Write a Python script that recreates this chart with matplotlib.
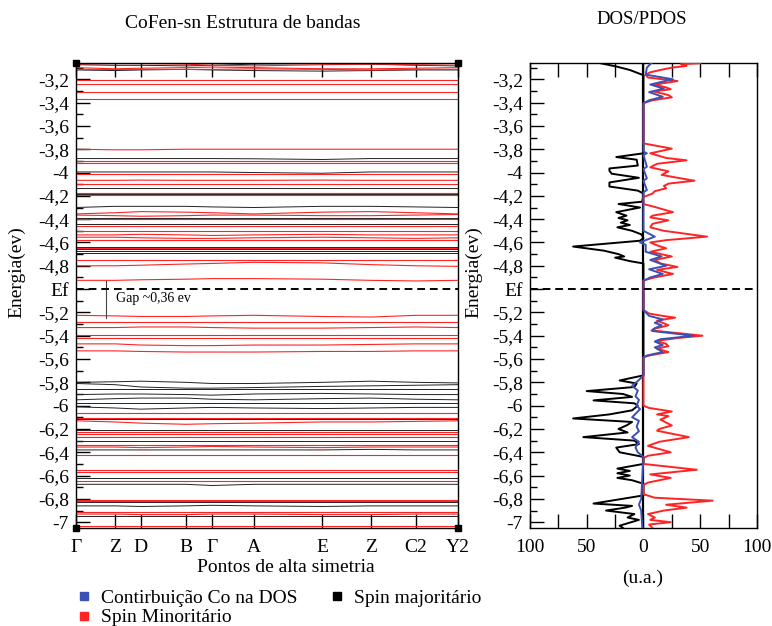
import matplotlib
matplotlib.use("Agg")
import matplotlib.pyplot as plt
from matplotlib.lines import Line2D
from matplotlib.ticker import MultipleLocator

plt.rcParams['font.family'] = ['Liberation Serif', 'DejaVu Serif']

# high-symmetry path
kpts = [0, 0.102, 0.170, 0.288, 0.356, 0.466, 0.644, 0.772, 0.890, 1.0]
klabels = ['Γ', 'Z', 'D', 'B', 'Γ', 'A', 'E', 'Z', 'C2', 'Y2']

# bands: energy at each high-symmetry point (eV)
bands_major = [
    [-3.075, -3.08, -3.08, -3.085, -3.08, -3.07, -3.065, -3.07, -3.08, -3.085],
    [-3.12, -3.125, -3.12, -3.115, -3.12, -3.125, -3.13, -3.125, -3.12, -3.12],
    [-3.88, -3.88, -3.88, -3.88, -3.88, -3.882, -3.888, -3.88, -3.88, -3.88],
    [-3.92, -3.92, -3.92, -3.92, -3.92, -3.92, -3.92, -3.92, -3.92, -3.92],
    [-3.995, -3.995, -3.995, -3.995, -3.995, -4.0, -4.006, -3.995, -3.995, -3.995],
    [-4.13, -4.13, -4.13, -4.13, -4.13, -4.13, -4.13, -4.13, -4.13, -4.13],
    [-4.18, -4.18, -4.18, -4.18, -4.18, -4.18, -4.18, -4.18, -4.18, -4.18],
    [-4.30, -4.29, -4.29, -4.29, -4.295, -4.30, -4.29, -4.29, -4.295, -4.30],
    [-4.39, -4.39, -4.39, -4.39, -4.39, -4.39, -4.39, -4.39, -4.39, -4.39],
    [-4.445, -4.445, -4.445, -4.445, -4.445, -4.445, -4.445, -4.445, -4.445, -4.445],
    [-4.64, -4.64, -4.64, -4.64, -4.64, -4.64, -4.64, -4.64, -4.64, -4.64],
    [-4.66, -4.66, -4.66, -4.66, -4.66, -4.66, -4.66, -4.66, -4.66, -4.66],
    [-4.675, -4.675, -4.675, -4.675, -4.675, -4.675, -4.675, -4.675, -4.675, -4.675],
    [-4.69, -4.69, -4.69, -4.69, -4.69, -4.69, -4.69, -4.69, -4.69, -4.69],
    [-5.80, -5.795, -5.79, -5.80, -5.81, -5.81, -5.80, -5.79, -5.80, -5.805],
    [-5.81, -5.82, -5.84, -5.85, -5.85, -5.845, -5.835, -5.83, -5.825, -5.82],
    [-5.86, -5.86, -5.86, -5.86, -5.86, -5.86, -5.86, -5.86, -5.86, -5.86],
    [-5.905, -5.90, -5.90, -5.905, -5.91, -5.90, -5.895, -5.90, -5.905, -5.905],
    [-5.95, -5.94, -5.935, -5.935, -5.945, -5.95, -5.94, -5.935, -5.945, -5.95],
    [-5.98, -5.98, -5.98, -5.98, -5.98, -5.98, -5.98, -5.98, -5.98, -5.98],
    [-6.01, -6.02, -6.03, -6.02, -6.015, -6.02, -6.025, -6.02, -6.015, -6.015],
    [-6.115, -6.115, -6.115, -6.115, -6.115, -6.115, -6.115, -6.115, -6.115, -6.115],
    [-6.205, -6.205, -6.205, -6.205, -6.205, -6.205, -6.205, -6.205, -6.205, -6.205],
    [-6.272, -6.272, -6.272, -6.272, -6.272, -6.272, -6.272, -6.272, -6.272, -6.272],
    [-6.30, -6.30, -6.30, -6.30, -6.30, -6.30, -6.30, -6.30, -6.30, -6.30],
    [-6.38, -6.38, -6.38, -6.38, -6.38, -6.38, -6.38, -6.375, -6.38, -6.38],
    [-6.62, -6.62, -6.62, -6.62, -6.62, -6.62, -6.62, -6.62, -6.62, -6.62],
    [-6.675, -6.675, -6.675, -6.675, -6.685, -6.675, -6.675, -6.675, -6.675, -6.675],
    [-6.825, -6.825, -6.825, -6.825, -6.825, -6.825, -6.825, -6.825, -6.825, -6.825],
    [-6.86, -6.86, -6.865, -6.86, -6.855, -6.86, -6.865, -6.86, -6.86, -6.86],
    [-6.945, -6.945, -6.945, -6.945, -6.945, -6.945, -6.945, -6.945, -6.945, -6.945],
]

bands_minor = [
    [-3.07, -3.065, -3.065, -3.07, -3.08, -3.085, -3.075, -3.07, -3.075, -3.08],
    [-3.10, -3.11, -3.105, -3.10, -3.095, -3.10, -3.11, -3.11, -3.105, -3.10],
    [-3.115, -3.115, -3.115, -3.115, -3.115, -3.11, -3.115, -3.12, -3.115, -3.115],
    [-3.21, -3.21, -3.21, -3.21, -3.21, -3.21, -3.21, -3.21, -3.21, -3.21],
    [-3.24, -3.24, -3.24, -3.24, -3.24, -3.24, -3.24, -3.24, -3.24, -3.24],
    [-3.305, -3.305, -3.305, -3.305, -3.305, -3.305, -3.305, -3.305, -3.305, -3.305],
    [-3.37, -3.37, -3.37, -3.37, -3.37, -3.37, -3.37, -3.37, -3.37, -3.37],
    [-3.80, -3.805, -3.805, -3.80, -3.80, -3.80, -3.80, -3.80, -3.80, -3.80],
    [-3.905, -3.905, -3.905, -3.905, -3.905, -3.905, -3.905, -3.905, -3.905, -3.905],
    [-3.915, -3.915, -3.915, -3.915, -3.915, -3.915, -3.915, -3.915, -3.915, -3.915],
    [-4.015, -4.015, -4.015, -4.015, -4.015, -4.015, -4.015, -4.015, -4.015, -4.015],
    [-4.067, -4.067, -4.065, -4.067, -4.067, -4.067, -4.065, -4.067, -4.067, -4.067],
    [-4.10, -4.10, -4.10, -4.10, -4.10, -4.10, -4.10, -4.10, -4.10, -4.10],
    [-4.175, -4.175, -4.175, -4.175, -4.175, -4.175, -4.175, -4.175, -4.175, -4.175],
    [-4.195, -4.195, -4.195, -4.195, -4.195, -4.195, -4.195, -4.195, -4.195, -4.195],
    [-4.355, -4.345, -4.335, -4.34, -4.345, -4.355, -4.34, -4.335, -4.345, -4.355],
    [-4.365, -4.37, -4.375, -4.37, -4.365, -4.365, -4.37, -4.37, -4.365, -4.36],
    [-4.395, -4.395, -4.395, -4.395, -4.395, -4.395, -4.395, -4.395, -4.395, -4.395],
    [-4.455, -4.455, -4.455, -4.455, -4.455, -4.455, -4.455, -4.455, -4.455, -4.455],
    [-4.505, -4.505, -4.505, -4.505, -4.505, -4.505, -4.505, -4.505, -4.505, -4.505],
    [-4.535, -4.535, -4.53, -4.535, -4.54, -4.535, -4.53, -4.535, -4.535, -4.535],
    [-4.555, -4.555, -4.56, -4.565, -4.565, -4.56, -4.555, -4.56, -4.565, -4.56],
    [-4.575, -4.575, -4.575, -4.575, -4.575, -4.575, -4.575, -4.575, -4.575, -4.575],
    [-4.645, -4.645, -4.645, -4.645, -4.645, -4.645, -4.645, -4.645, -4.645, -4.645],
    [-4.75, -4.75, -4.75, -4.75, -4.75, -4.75, -4.75, -4.75, -4.75, -4.75],
    [-4.80, -4.80, -4.795, -4.785, -4.78, -4.77, -4.775, -4.79, -4.80, -4.805],
    [-4.925, -4.925, -4.92, -4.915, -4.91, -4.91, -4.915, -4.925, -4.93, -4.925],
    [-5.225, -5.23, -5.235, -5.235, -5.23, -5.225, -5.235, -5.24, -5.225, -5.225],
    [-5.28, -5.28, -5.28, -5.28, -5.28, -5.28, -5.28, -5.28, -5.28, -5.28],
    [-5.33, -5.33, -5.325, -5.325, -5.33, -5.335, -5.335, -5.33, -5.325, -5.33],
    [-5.39, -5.39, -5.39, -5.39, -5.39, -5.39, -5.39, -5.39, -5.39, -5.39],
    [-5.42, -5.42, -5.42, -5.42, -5.42, -5.42, -5.42, -5.42, -5.42, -5.42],
    [-5.47, -5.47, -5.48, -5.485, -5.485, -5.48, -5.48, -5.475, -5.47, -5.47],
    [-5.53, -5.53, -5.535, -5.54, -5.54, -5.54, -5.535, -5.535, -5.53, -5.53],
    [-6.06, -6.06, -6.06, -6.06, -6.06, -6.06, -6.06, -6.06, -6.06, -6.06],
    [-6.11, -6.11, -6.11, -6.11, -6.11, -6.11, -6.11, -6.11, -6.11, -6.11],
    [-6.13, -6.14, -6.15, -6.16, -6.155, -6.15, -6.14, -6.14, -6.135, -6.13],
    [-6.225, -6.225, -6.225, -6.225, -6.225, -6.225, -6.225, -6.225, -6.225, -6.225],
    [-6.245, -6.245, -6.245, -6.245, -6.245, -6.245, -6.245, -6.245, -6.245, -6.245],
    [-6.268, -6.268, -6.268, -6.268, -6.268, -6.268, -6.268, -6.268, -6.268, -6.268],
    [-6.335, -6.335, -6.335, -6.335, -6.335, -6.335, -6.335, -6.335, -6.335, -6.335],
    [-6.355, -6.355, -6.36, -6.355, -6.35, -6.355, -6.36, -6.355, -6.355, -6.355],
    [-6.42, -6.42, -6.42, -6.42, -6.42, -6.42, -6.42, -6.42, -6.42, -6.42],
    [-6.555, -6.555, -6.555, -6.555, -6.555, -6.555, -6.555, -6.555, -6.555, -6.555],
    [-6.565, -6.565, -6.565, -6.565, -6.565, -6.565, -6.565, -6.565, -6.565, -6.565],
    [-6.65, -6.65, -6.65, -6.65, -6.65, -6.65, -6.65, -6.65, -6.65, -6.65],
    [-6.81, -6.81, -6.81, -6.81, -6.81, -6.81, -6.81, -6.81, -6.81, -6.81],
    [-6.818, -6.818, -6.818, -6.818, -6.818, -6.818, -6.818, -6.818, -6.818, -6.818],
    [-6.915, -6.915, -6.915, -6.915, -6.915, -6.915, -6.915, -6.915, -6.915, -6.915],
    [-6.93, -6.93, -6.935, -6.935, -6.93, -6.93, -6.935, -6.935, -6.93, -6.93],
    [-7.03, -7.03, -7.03, -7.03, -7.03, -7.03, -7.03, -7.03, -7.03, -7.03],
]

# DOS (u.a.), spin majoritário drawn to the left
dos_major_E = [-3.06, -3.09, -3.12, -3.165, -3.835, -3.867, -3.89, -3.94, -3.965, -3.985,
               -4.01, -4.045, -4.085, -4.12, -4.155, -4.18, -4.25, -4.27, -4.30, -4.34,
               -4.37, -4.39, -4.41, -4.43, -4.45, -4.47, -4.50, -4.53, -4.56, -4.585,
               -4.635, -4.67, -4.70, -4.72, -4.73, -4.76, -4.78, -5.74, -5.784, -5.81,
               -5.84, -5.875, -5.90, -5.925, -5.955, -5.98, -6.0, -6.04, -6.075, -6.11,
               -6.14, -6.17, -6.20, -6.23, -6.27, -6.30, -6.33, -6.36, -6.40, -6.44,
               -6.50, -6.54, -6.56, -6.58, -6.60, -6.62, -6.64, -6.67, -6.77, -6.84,
               -6.86, -6.875, -6.90, -6.93, -6.96, -6.98, -7.03, -7.05]
dos_major = [39, 24, 12, 0, 0, 24, 6, 5, 30, 30,
             28, 4, 30, 30, 5, 0, 1, 22, 3, 24,
             15, 22, 14, 20, 12, 23, 10, 2, 0, 3,
             62, 35, 22, 17, 25, 12, 0, 0, 21, 6,
             8, 50, 18, 10, 44, 8, 5, 10, 30, 62,
             10, 15, 22, 14, 53, 8, 4, 24, 21, 0,
             0, 23, 12, 23, 12, 23, 10, 0, 0, 44,
             10, 16, 33, 8, 14, 4, 21, 18]

dos_minor_E = [-3.062, -3.07, -3.085, -3.10, -3.12, -3.14, -3.16, -3.185, -3.215, -3.245,
               -3.27, -3.285, -3.305, -3.335, -3.355, -3.38, -3.405, -3.75, -3.795, -3.835,
               -3.875, -3.895, -3.925, -3.955, -3.99, -4.02, -4.045, -4.07, -4.095, -4.115,
               -4.135, -4.16, -4.18, -4.21, -4.27, -4.29, -4.34, -4.37, -4.385, -4.41,
               -4.44, -4.47, -4.50, -4.55, -4.58, -4.60, -4.625, -4.65, -4.68, -4.72,
               -4.75, -4.78, -4.81, -4.835, -4.87, -4.90, -4.925, -5.18, -5.21, -5.23,
               -5.245, -5.27, -5.31, -5.34, -5.355, -5.38, -5.40, -5.42, -5.445, -5.47,
               -5.49, -5.51, -5.54, -5.57, -5.585, -6.0, -6.02, -6.05, -6.075, -6.09,
               -6.12, -6.17, -6.20, -6.215, -6.27, -6.31, -6.345, -6.40, -6.43, -6.45,
               -6.50, -6.55, -6.59, -6.62, -6.66, -6.68, -6.76, -6.79, -6.815, -6.85,
               -6.875, -6.90, -6.93, -6.96, -6.98, -7.0, -7.02, -7.05]
dos_minor = [50, 33, 38, 25, 15, 6, 2, 4, 30, 10,
             20, 24, 9, 22, 25, 8, 0, 0, 25, 6,
             20, 38, 12, 6, 22, 16, 30, 45, 22, 18,
             20, 10, 8, 0, 0, 8, 26, 8, 6, 22,
             8, 6, 18, 56, 20, 6, 12, 20, 6, 25,
             10, 15, 30, 12, 26, 10, 0, 0, 5, 17,
             28, 12, 22, 10, 7, 33, 52, 30, 11, 20,
             22, 12, 22, 5, 0, 0, 5, 25, 12, 22,
             15, 25, 14, 12, 40, 14, 4, 24, 4, 0,
             0, 47, 6, 24, 4, 0, 0, 10, 61, 20,
             38, 18, 4, 10, 6, 24, 5, 8]

dos_co_E = [-3.06, -3.10, -3.16, -3.20, -3.245, -3.28, -3.31, -3.35, -3.38, -3.405,
            -3.82, -3.835, -3.85, -3.95, -3.97, -4.05, -4.07, -4.15, -4.17, -4.20,
            -4.50, -4.55, -4.58, -4.60, -4.62, -4.68, -4.72, -4.75, -4.80, -4.83,
            -4.87, -4.90, -4.93, -5.18, -5.23, -5.26, -5.29, -5.31, -5.34, -5.36,
            -5.40, -5.43, -5.45, -5.48, -5.50, -5.54, -5.57, -5.585, -5.74, -5.78,
            -5.83, -5.87, -5.92, -5.95, -6.0, -6.03, -6.10, -6.13, -6.18, -6.22,
            -6.27, -6.31, -6.36, -6.40, -6.44, -6.80, -6.85, -6.90, -7.05]
dos_co = [7, 3, 2, 26, 6, 18, 5, 17, 5, 0,
          0, 3, 0, 3, 0, 3, 0, 3, 0, 0,
          0, 10, 2, -3, 2, 2, 16, 6, 20, 5,
          17, 6, 0, 0, 5, 17, 10, 16, 9, 8,
          44, 15, 10, 17, 10, 17, 3, 0, 0, -4,
          -10, -5, -7, -4, -6, -3, -10, -4, -6, -4,
          -10, -4, -7, -5, 0, -2, -4, -2, -1]

yticks = [-3.2, -3.4, -3.6, -3.8, -4.0, -4.2, -4.4, -4.6, -4.8, -5.0,
          -5.2, -5.4, -5.6, -5.8, -6.0, -6.2, -6.4, -6.6, -6.8, -7.0]
ytick_labels = ['-3,2', '-3,4', '-3,6', '-3,8', '-4', '-4,2', '-4,4', '-4,6', '-4,8', 'Ef',
                '-5,2', '-5,4', '-5,6', '-5,8', '-6', '-6,2', '-6,4', '-6,6', '-6,8', '-7']
e_fermi = -5.0
ylim = (-7.05, -3.06)

RED = '#ff2424'
BLUE = '#3a50b4'

fig = plt.figure(figsize=(7.72, 6.26), dpi=100)
ax1 = fig.add_axes([0.0984, 0.1565, 0.4948, 0.7429])
ax2 = fig.add_axes([0.6865, 0.1565, 0.2940, 0.7429])


def style_y(ax):
    ax.set_ylim(*ylim)
    ax.set_yticks(yticks)
    ax.set_yticklabels(ytick_labels)
    ax.yaxis.set_minor_locator(MultipleLocator(0.1))
    ax.tick_params(axis='y', which='both', direction='in', left=True, right=False,
                   labelsize=14, pad=5)
    ax.tick_params(axis='y', which='major', length=10, width=1)
    ax.tick_params(axis='y', which='minor', length=5, width=1)
    ax.tick_params(axis='x', which='both', direction='in', top=True, bottom=True,
                   length=10, width=1, labelsize=14, pad=8)
    for s in ax.spines.values():
        s.set_linewidth(1.0)


# band structure
for b in bands_major:
    ax1.plot(kpts, b, color='#222222', lw=0.7)
for b in bands_minor:
    ax1.plot(kpts, b, color=RED, lw=0.8)
ax1.axhline(e_fermi, color='black', lw=1.4, dashes=(4, 2.5), zorder=5)
ax1.set_xlim(0, 1)
ax1.set_xticks(kpts)
ax1.set_xticklabels(klabels)
style_y(ax1)
ax1.plot([0, 1, 0, 1], [1, 1, 0, 0], 's', color='black', ms=5,
         transform=ax1.transAxes, clip_on=False, zorder=6)
# gap marker
ax1.plot([0.079, 0.079], [-4.93, -5.245], color='#444444', lw=0.8)
ax1.text(0.105, -5.077, 'Gap ~0,36 ev', fontsize=10, va='center', ha='left')

# DOS / PDOS
ax2.plot([-v for v in dos_major], dos_major_E, color='black', lw=1.4, zorder=3)
ax2.plot(dos_minor, dos_minor_E, color=RED, lw=1.4, zorder=3)
ax2.plot([0, 0], ylim, color='black', lw=1.6, zorder=2)
ax2.plot(dos_co, dos_co_E, color=BLUE, lw=1.4, zorder=4)
ax2.axhline(e_fermi, color='black', lw=1.4, dashes=(4, 2.5), zorder=5)
ax2.set_xlim(-100, 100)
ax2.set_xticks([-100, -75, -50, -25, 0, 25, 50, 75, 100])
ax2.set_xticklabels(['100', '', '50', '', '0', '', '50', '', '100'])
style_y(ax2)

# texts
fig.text(243 / 772, 1 - 24 / 626, 'CoFen-sn Estrutura de bandas', ha='center', va='center', fontsize=14)
fig.text(642 / 772, 1 - 20 / 626, 'DOS/PDOS', ha='center', va='center', fontsize=13.5)
fig.text(286 / 772, 1 - 567 / 626, 'Pontos de alta simetria', ha='center', va='center', fontsize=14)
fig.text(643 / 772, 1 - 578 / 626, '(u.a.)', ha='center', va='center', fontsize=14)
fig.text(17 / 772, 1 - 272 / 626, 'Energia(ev)', rotation=90, ha='center', va='center', fontsize=14)
fig.text(474 / 772, 1 - 272 / 626, 'Energia(ev)', rotation=90, ha='center', va='center', fontsize=14)

handles = [
    Line2D([], [], ls='none', marker='s', ms=6, color=BLUE, label='Contirbuição Co na DOS'),
    Line2D([], [], ls='none', marker='s', ms=6, color=RED, label='Spin Minoritário'),
    Line2D([], [], ls='none', marker='s', ms=6, color='black', label='Spin majoritário'),
]
fig.legend(handles=handles, loc='upper left', bbox_to_anchor=(0.086, 0.071), ncol=2,
           frameon=False, fontsize=14, handletextpad=0.4, columnspacing=1.5,
           labelspacing=0.1, handlelength=1.0, borderaxespad=0)

fig.savefig('out.png', dpi=100)
